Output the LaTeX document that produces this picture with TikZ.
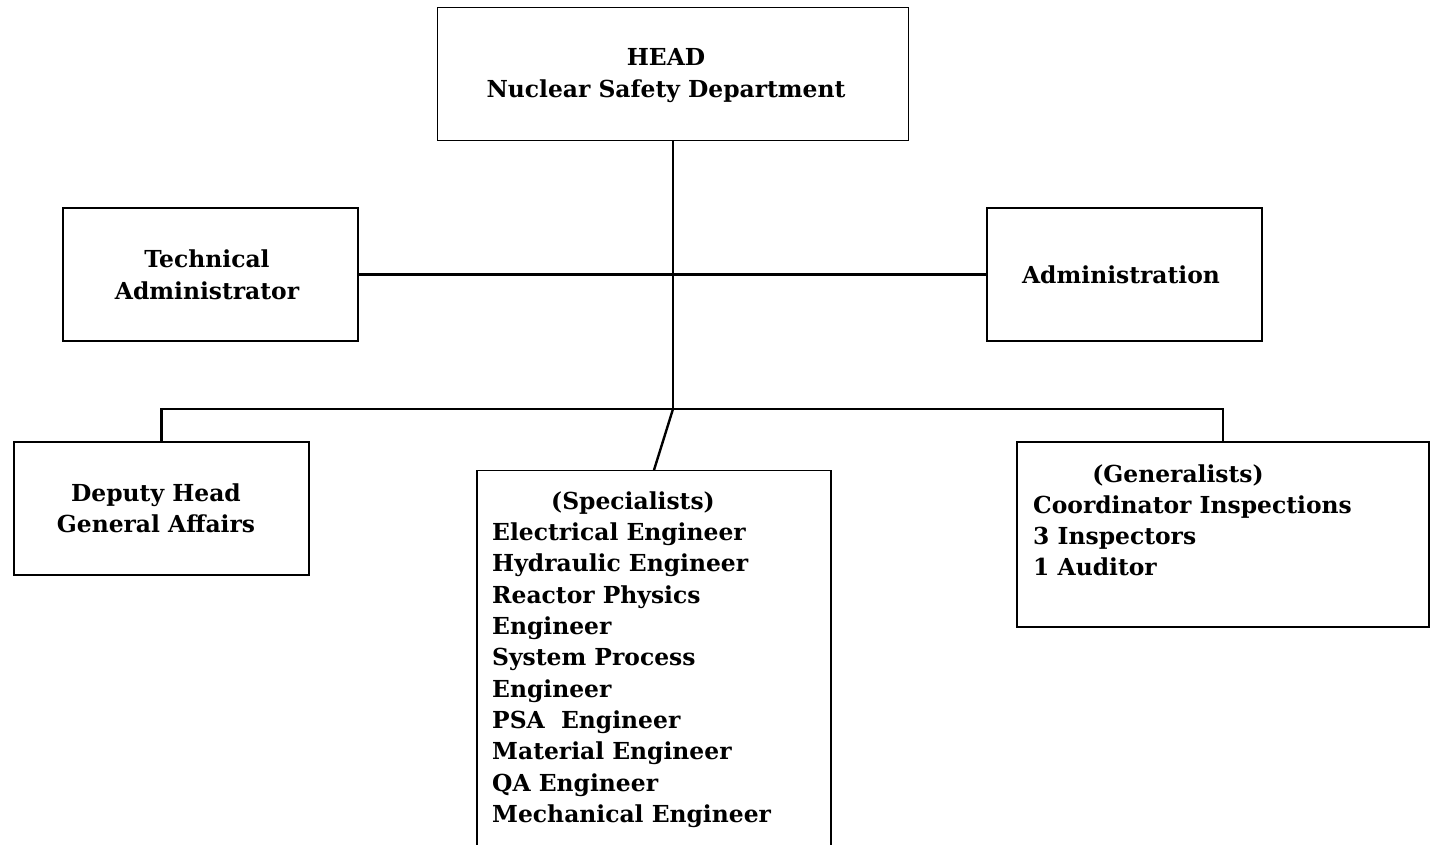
\documentclass[tikz,border=0pt]{standalone}
\usepackage{fontspec}
\setmainfont{DejaVu Serif}
\begin{document}
\begin{tikzpicture}[x=1pt,y=-1pt,
  box/.style={draw, line width=1.3pt, rectangle, inner sep=0pt},
  heavybox/.style={box, line width=2.2pt},
  lbl/.style={font=\bfseries\fontsize{23.4}{31.4}\selectfont, inner sep=0pt},
  wire/.style={line width=2.4pt}]
\useasboundingbox (0,0) rectangle (1431,845);
\clip (0,0) rectangle (1431,845);
\fill[white] (0,0) rectangle (1431,845);

% boxes
\node[box, minimum width=471pt, minimum height=133pt] (head) at (673,74) {};
\node[box, minimum width=295pt, minimum height=133pt] (tech) at (210.5,274.5) {};
\node[box, minimum width=275pt, minimum height=133pt] (admin) at (1124.5,274.5) {};
\node[box, minimum width=295pt, minimum height=133pt] (deputy) at (161.5,508.5) {};
\node[box, minimum width=354pt, minimum height=400pt, anchor=north] (spec) at (654,470) {};
\node[heavybox, minimum width=412pt, minimum height=185pt] (gen) at (1223,534.5) {};

% head text
\node[lbl, anchor=base] (t1) at (666,66) {HEAD};
\node[lbl, anchor=base] (t2) at (666,98) {Nuclear Safety Department};
% technical administrator
\node[lbl, anchor=base] (t3) at (207,267) {Technical};
\node[lbl, anchor=base] (t4) at (207,299) {Administrator};
% administration
\node[lbl, anchor=base] (t5) at (1121,283) {Administration};
% deputy head
\node[lbl, anchor=base] (t6) at (156,501) {Deputy Head};
\node[lbl, anchor=base] (t7) at (156,532) {General Affairs};
% specialists
\node[lbl, anchor=base] (s0) at (633,509) {(Specialists)};
\foreach \txt [count=\i] in {Electrical Engineer, Hydraulic Engineer, Reactor Physics, Engineer, System Process, Engineer, PSA\ \ Engineer, Material Engineer, QA Engineer, Mechanical Engineer}
  \node[lbl, anchor=base west] (s\i) at (492,{509+31.35*\i}) {\txt};
% generalists
\node[lbl, anchor=base] (g0) at (1178,482) {(Generalists)};
\foreach \txt [count=\i] in {Coordinator Inspections, 3 Inspectors, 1 Auditor}
  \node[lbl, anchor=base west] (g\i) at (1033,{482+31.3*\i}) {\txt};

% connectors
\coordinate (hub) at (673,409);
\draw[wire] (head.south) -- (hub);
\draw[wire] (tech.east) -- (admin.west);
\draw[wire] (deputy.north) -- (deputy.north |- hub) -- (gen.north |- hub) -- (gen.north);
\draw[wire] (hub) -- (spec.north);
\end{tikzpicture}
\end{document}
